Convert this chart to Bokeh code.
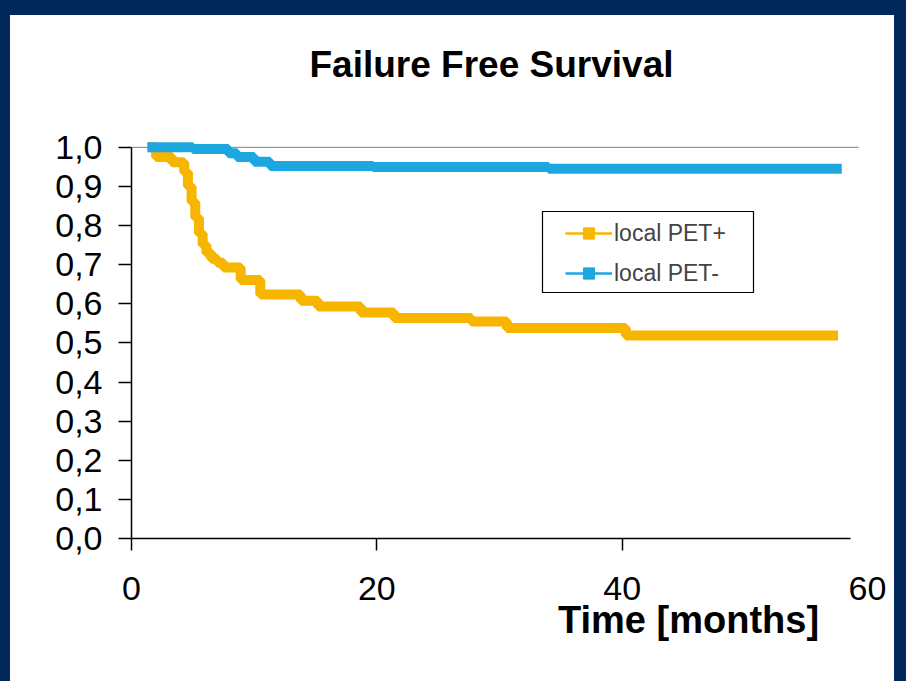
from bokeh.plotting import figure
from bokeh.layouts import row, column
from bokeh.models import (Range1d, LinearAxis, FixedTicker, CustomJSTickFormatter,
                          Legend, LegendItem, BoxAnnotation, Spacer)
from bokeh.embed import file_html
from bokeh.resources import INLINE

# Kaplan-Meier style failure free survival estimates (months, survival fraction)
months_pet_pos = [1.3, 2.0, 3.3, 4.3, 4.6, 4.9, 5.2, 5.5, 5.8, 6.1, 6.5, 7.0, 7.5,
                  8.9, 10.5, 13.8, 15.2, 18.7, 21.4, 27.7, 30.6, 40.3, 57.6]
surv_pet_pos = [1.0, 0.975, 0.962, 0.936, 0.90, 0.86, 0.82, 0.78, 0.75, 0.73, 0.715, 0.705, 0.693,
                0.661, 0.624, 0.608, 0.593, 0.578, 0.564, 0.555, 0.538, 0.519, 0.519]

months_pet_neg = [1.3, 5.0, 7.9, 8.6, 10.0, 11.3, 19.7, 34.0, 57.9]
surv_pet_neg = [1.0, 0.996, 0.985, 0.975, 0.963, 0.952, 0.950, 0.945, 0.945]

series_names = ["local PET+", "local PET-"]
x_ticks = [0, 20, 40, 60]
y_ticks = [0.0, 0.1, 0.2, 0.3, 0.4, 0.5, 0.6, 0.7, 0.8, 0.9, 1.0]

title_text = "Failure Free Survival"
x_title = "Time [months]"

ORANGE = "#F7B500"
BLUE = "#1DA7E0"
NAVY = "#03295A"
FONT = "Liberation Sans"

# page and slide frame
PAGE_W, PAGE_H = 906, 681
PAD_L, PAD_T, PAD_R = 10, 15, 12

# figure geometry (figure-local pixels)
W, H = PAGE_W - PAD_L - PAD_R, PAGE_H - PAD_T
LEFT, RIGHT, TOP, BOTTOM = 121, 27, 124, 143
X0, X1 = 0, 60
Y0, Y1 = 0, 1.02
frame_w = W - LEFT - RIGHT
frame_h = H - TOP - BOTTOM


def px_x(px):
    """figure pixel column -> data x"""
    return X0 + (px - LEFT) * (X1 - X0) / frame_w


def px_y(py):
    """figure pixel row -> data y"""
    return Y0 + (H - BOTTOM - py) * (Y1 - Y0) / frame_h


p = figure(width=W, height=H, output_backend="svg", toolbar_location=None,
           x_range=Range1d(X0, X1), y_range=Range1d(Y0, Y1),
           x_axis_location=None, y_axis_location=None,
           min_border_left=LEFT, min_border_right=RIGHT,
           min_border_top=TOP, min_border_bottom=BOTTOM)
p.title = None
p.grid.visible = False
p.outline_line_color = None
p.background_fill_color = "white"
p.border_fill_color = "white"

LABEL_SIZE = "34px"

# chart title, centred over the plot area
title_axis = LinearAxis(ticker=FixedTicker(ticks=[px_x(481)]),
                        formatter=CustomJSTickFormatter(args=dict(t=title_text), code="return t;"),
                        axis_line_color=None, major_tick_line_color=None,
                        major_tick_out=0, major_tick_in=0, minor_tick_line_color=None,
                        major_label_standoff=55,
                        major_label_text_font_size="37px", major_label_text_font=FONT,
                        major_label_text_font_style="bold", major_label_text_color="black")
p.add_layout(title_axis, "above")

# y axis with comma decimals
yaxis = LinearAxis(ticker=FixedTicker(ticks=y_ticks), bounds=(0, 1),
                   formatter=CustomJSTickFormatter(code="return tick.toFixed(1).replace('.', ',');"),
                   axis_line_width=1.5, axis_line_color="black",
                   major_tick_line_width=1.5, major_tick_out=13, major_tick_in=0,
                   minor_tick_line_color=None, major_label_standoff=16,
                   major_label_text_font_size=LABEL_SIZE, major_label_text_font=FONT,
                   major_label_text_color="black")
p.add_layout(yaxis, "left")

# x axis: line, tick marks and labels up to 40 (the line stops short of 60)
xaxis = LinearAxis(ticker=FixedTicker(ticks=x_ticks[:-1]), bounds=(0, px_x(840)),
                   axis_line_width=1.5, axis_line_color="black",
                   major_tick_line_width=1.5, major_tick_out=12, major_tick_in=0,
                   minor_tick_line_color=None, major_label_standoff=26,
                   major_label_text_font_size=LABEL_SIZE, major_label_text_font=FONT,
                   major_label_text_color="black")
p.add_layout(xaxis, "below")

# last x label, past the end of the axis line, on the same row
xaxis_end = LinearAxis(ticker=FixedTicker(ticks=x_ticks[-1:]),
                       axis_line_color=None, major_tick_line_color=None,
                       major_tick_out=0, major_tick_in=0, minor_tick_line_color=None,
                       major_label_standoff=-26,
                       major_label_text_font_size=LABEL_SIZE, major_label_text_font=FONT,
                       major_label_text_color="black")
p.add_layout(xaxis_end, "below")

# x axis title, set under the right half of the axis
xaxis_title = LinearAxis(ticker=FixedTicker(ticks=[px_x(678)]),
                         formatter=CustomJSTickFormatter(args=dict(t=x_title), code="return t;"),
                         axis_line_color=None, major_tick_line_color=None,
                         major_tick_out=0, major_tick_in=0, minor_tick_line_color=None,
                         major_label_standoff=-4,
                         major_label_text_font_size="38px", major_label_text_font=FONT,
                         major_label_text_font_style="bold", major_label_text_color="black")
p.add_layout(xaxis_title, "below")

# reference line at survival 1.0
p.segment(x0=[0], y0=[1.0], x1=[px_x(848)], y1=[1.0], line_color="#808080", line_width=1)

# survival curves
p.step(months_pet_pos, surv_pet_pos, mode="after", line_width=10, line_color=ORANGE)
p.step(months_pet_neg, surv_pet_neg, mode="after", line_width=10, line_color=BLUE)

# legend samples: thin line with a square marker (hidden in the plot area)
pos_line = p.line(months_pet_pos, surv_pet_pos, line_color=ORANGE, line_width=2.5, visible=False)
pos_sq = p.scatter(months_pet_pos, surv_pet_pos, marker="square", size=13, color=ORANGE, visible=False)
neg_line = p.line(months_pet_neg, surv_pet_neg, line_color=BLUE, line_width=2.5, visible=False)
neg_sq = p.scatter(months_pet_neg, surv_pet_neg, marker="square", size=13, color=BLUE, visible=False)

legend = Legend(items=[LegendItem(label=series_names[0], renderers=[pos_line, pos_sq]),
                       LegendItem(label=series_names[1], renderers=[neg_line, neg_sq])],
                location=(555 - LEFT, H - BOTTOM - 272), padding=0, spacing=12,
                glyph_width=47, glyph_height=28, label_height=28, label_standoff=2,
                label_text_font_size="23px", label_text_font=FONT,
                border_line_color=None, background_fill_alpha=0,
                inactive_fill_alpha=0)
p.add_layout(legend)

p.add_layout(BoxAnnotation(left=px_x(532), right=px_x(743), top=px_y(196), bottom=px_y(277),
                           fill_alpha=0, line_color="black", line_alpha=1, line_width=1.2))

# navy slide frame around the figure
left_bar = Spacer(width=PAD_L, height=PAGE_H, styles={"background-color": NAVY})
top_bar = Spacer(width=W, height=PAD_T, styles={"background-color": NAVY})
right_bar = Spacer(width=PAD_R, height=PAGE_H, styles={"background-color": NAVY})
page = row(left_bar, column(top_bar, p, spacing=0), right_bar, spacing=0)

open("out.html", "w").write(file_html(page, INLINE))
